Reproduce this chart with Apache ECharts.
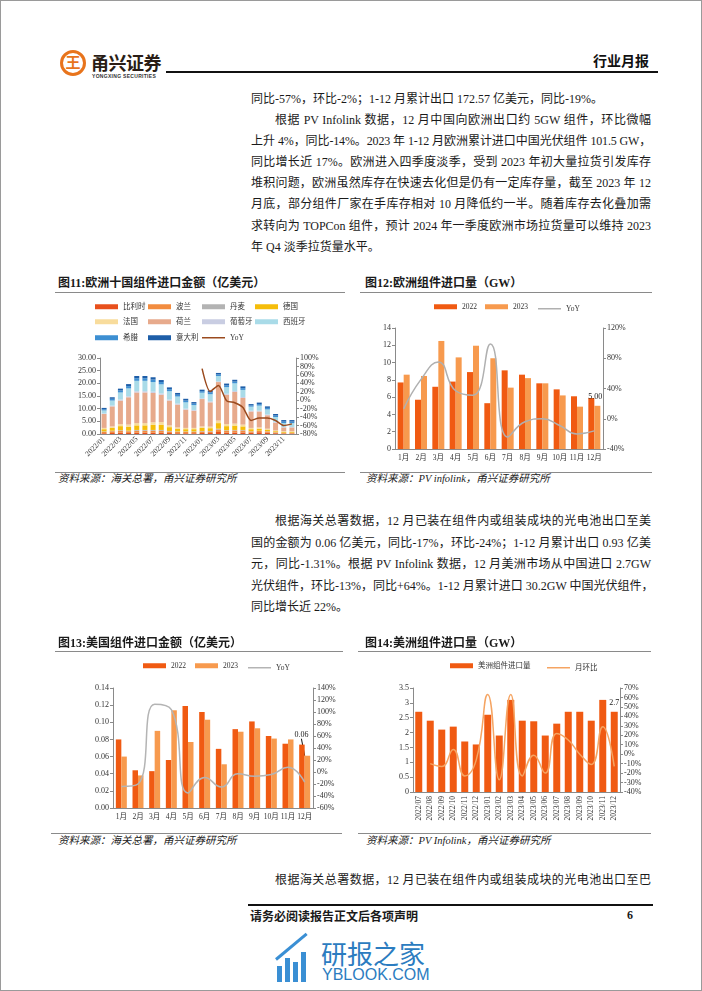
<!DOCTYPE html>
<html><head><meta charset="utf-8">
<script src="https://cdn.jsdelivr.net/npm/echarts@6/dist/echarts.min.js"></script>
<style>
html,body{margin:0;padding:0;background:#fff;}
#page{position:relative;width:702px;height:991px;overflow:hidden;font-family:'Liberation Serif','Noto Sans CJK SC',serif;color:#1a1a1a;}
.frame{position:absolute;left:0;top:0;width:700px;height:989px;border:1px solid #9a9a9a;z-index:0;}
.t{position:absolute;white-space:nowrap;font-size:12px;line-height:16px;z-index:3;}
.j{text-align:justify;text-align-last:justify;}
.ttl{position:absolute;white-space:nowrap;font-size:12px;line-height:14px;font-weight:bold;font-family:'Liberation Serif','Noto Sans CJK SC',serif;z-index:3;}
.src{position:absolute;white-space:nowrap;font-size:10.5px;line-height:12px;font-style:italic;color:#222;z-index:3;}
.hl{position:absolute;height:1px;background:#8a8a8a;z-index:3;}
.chart{position:absolute;z-index:2;}
</style></head>
<body><div id="page">
<div class="frame"></div>
<!-- header -->
<div style="position:absolute;left:60px;top:50px;width:20px;height:20px;border:3px solid #e8741c;border-radius:50%;z-index:3;"></div>
<div style="position:absolute;left:60px;top:51px;width:26px;text-align:center;font:bold 15px/22px 'Noto Sans CJK SC';color:#e8741c;z-index:4;">王</div>
<div class="t" style="left:91px;top:51px;font:bold 18px/22px 'Noto Sans CJK SC';color:#2a1d16;letter-spacing:-0.5px;">甬兴证券</div>
<div class="t" style="left:92px;top:73px;font:bold 5px/6px 'Liberation Sans';color:#333;letter-spacing:0.3px;">YONGXING SECURITIES</div>
<div style="position:absolute;left:166px;top:71px;width:492px;height:2px;background:#111;z-index:3;"></div>
<div class="t" style="left:593px;top:51px;font:bold 14px/18px 'Noto Sans CJK SC';color:#111;">行业月报</div>

<!-- paragraph 1 -->
<div class="t" style="left:251px;top:91px;">同比-57%，环比-2%；1-12 月累计出口 172.57 亿美元，同比-19%。</div>
<div class="t j" style="left:275px;top:112px;width:376px;">根据 PV Infolink 数据，12 月中国向欧洲出口约 5GW 组件，环比微幅</div>
<div class="t j" style="left:251px;top:133px;width:400px;letter-spacing:-0.2px;">上升 4%，同比-14%。2023 年 1-12 月欧洲累计进口中国光伏组件 101.5 GW，</div>
<div class="t j" style="left:251px;top:154px;width:400px;">同比增长近 17%。欧洲进入四季度淡季，受到 2023 年初大量拉货引发库存</div>
<div class="t j" style="left:251px;top:175px;width:400px;">堆积问题，欧洲虽然库存在快速去化但是仍有一定库存量，截至 2023 年 12</div>
<div class="t j" style="left:251px;top:196px;width:400px;">月底，部分组件厂家在手库存相对 10 月降低约一半。随着库存去化叠加需</div>
<div class="t j" style="left:251px;top:218px;width:400px;">求转向为 TOPCon 组件，预计 2024 年一季度欧洲市场拉货量可以维持 2023</div>
<div class="t" style="left:251px;top:239px;">年 Q4 淡季拉货量水平。</div>

<!-- chart titles top -->
<div class="ttl" style="left:58px;top:276px;">图11:欧洲十国组件进口金额（亿美元）</div>
<div class="ttl" style="left:365px;top:276px;">图12:欧洲组件进口量（GW）</div>
<div class="hl" style="left:55px;top:292px;width:290px;"></div>
<div class="hl" style="left:360px;top:292px;width:292px;"></div>

<div id="c11" class="chart" style="left:55px;top:295px;width:300px;height:177px;"></div>
<div id="c12" class="chart" style="left:355px;top:295px;width:300px;height:177px;"></div>

<div class="hl" style="left:55px;top:472px;width:290px;"></div>
<div class="hl" style="left:360px;top:472px;width:292px;"></div>
<div class="src" style="left:58px;top:473px;">资料来源：海关总署，甬兴证券研究所</div>
<div class="src" style="left:366px;top:473px;">资料来源：PV infolink，甬兴证券研究所</div>

<!-- paragraph 2 -->
<div class="t j" style="left:275px;top:513px;width:376px;">根据海关总署数据，12 月已装在组件内或组装成块的光电池出口至美</div>
<div class="t j" style="left:251px;top:535px;width:400px;">国的金额为 0.06 亿美元，同比-17%，环比-24%；1-12 月累计出口 0.93 亿美</div>
<div class="t j" style="left:251px;top:556px;width:400px;">元，同比-1.31%。根据 PV Infolink 数据，12 月美洲市场从中国进口 2.7GW</div>
<div class="t j" style="left:251px;top:578px;width:400px;">光伏组件，环比-13%，同比+64%。1-12 月累计进口 30.2GW 中国光伏组件，</div>
<div class="t" style="left:251px;top:599px;">同比增长近 22%。</div>

<!-- chart titles bottom -->
<div class="ttl" style="left:58px;top:636px;">图13:美国组件进口金额（亿美元）</div>
<div class="ttl" style="left:365px;top:636px;">图14:美洲组件进口量（GW）</div>
<div class="hl" style="left:55px;top:651px;width:288px;"></div>
<div class="hl" style="left:358px;top:651px;width:293px;"></div>

<div id="c13" class="chart" style="left:55px;top:628px;width:300px;height:202px;"></div>
<div id="c14" class="chart" style="left:355px;top:628px;width:300px;height:202px;"></div>

<div class="hl" style="left:51px;top:833px;width:291px;"></div>
<div class="hl" style="left:358px;top:833px;width:293px;"></div>
<div class="src" style="left:58px;top:835px;">资料来源：海关总署，甬兴证券研究所</div>
<div class="src" style="left:366px;top:835px;">资料来源：PV Infolink，甬兴证券研究所</div>

<div class="t j" style="left:275px;top:872px;width:376px;">根据海关总署数据，12 月已装在组件内或组装成块的光电池出口至巴</div>

<!-- footer -->
<div style="position:absolute;left:248px;top:904px;width:405px;height:1.5px;background:#111;z-index:3;"></div>
<div class="t" style="left:250px;top:908px;font:bold 12px/15px 'Noto Sans CJK SC';">请务必阅读报告正文后各项声明</div>
<div class="t" style="left:627px;top:908px;font:bold 12px/15px 'Liberation Serif';">6</div>

<!-- watermark -->
<div style="position:absolute;left:277px;top:966px;width:5px;height:16px;background:#3a8fd4;z-index:3;"></div>
<div style="position:absolute;left:285px;top:958px;width:5px;height:24px;background:#3a8fd4;z-index:3;"></div>
<div style="position:absolute;left:293px;top:962px;width:5px;height:20px;background:#3a8fd4;z-index:3;"></div>
<div style="position:absolute;left:301px;top:952px;width:5px;height:30px;background:#3a8fd4;z-index:3;"></div>
<div style="position:absolute;left:276px;top:958px;width:40px;height:3px;background:#3a8fd4;transform:rotate(-40deg);transform-origin:left center;z-index:3;"></div>
<div class="t" style="left:321px;top:938px;font:26px/30px 'Noto Sans CJK SC';color:#2b7cc0;">研报之家</div>
<div class="t" style="left:322px;top:966px;font:16px/18px 'Liberation Sans';color:#2b7cc0;">YBLOOK.COM</div>
</div>

<script>
// ---------- Data ----------
const months11 = ['2022/01','2022/02','2022/03','2022/04','2022/05','2022/06','2022/07','2022/08','2022/09','2022/10','2022/11','2022/12','2023/01','2023/02','2023/03','2023/04','2023/05','2023/06','2023/07','2023/08','2023/09','2023/10','2023/11','2023/12'];
const belgium     = [0.3,0.4,0.5,0.4,0.5,0.5,0.5,0.5,0.4,0.3,0.3,0.3,0.4,0.4,0.8,0.5,0.6,0.6,0.5,0.7,0.6,0.3,0.2,0.2];
const poland      = [0.5,0.7,0.8,0.7,0.8,0.8,0.8,0.8,0.6,0.5,0.5,0.5,0.6,0.6,1.0,0.8,0.8,0.8,0.5,0.5,0.4,0.3,0.2,0.2];
const denmark     = [0.2,0.2,0.2,0.2,0.3,0.3,0.3,0.3,0.2,0.2,0.2,0.2,0.2,0.2,0.3,0.2,0.2,0.2,0.1,0.1,0.1,0.1,0.1,0.1];
const germany     = [0.9,1.1,1.6,1.5,1.8,1.8,2.0,2.0,1.5,1.0,0.9,0.9,1.2,1.1,2.2,1.6,1.7,1.4,0.8,0.8,0.6,0.4,0.3,0.3];
const france      = [0.5,0.6,0.8,0.9,0.9,0.9,1.0,1.1,0.7,0.6,0.5,0.5,0.6,0.6,1.0,0.8,0.8,0.7,0.5,0.5,0.4,0.3,0.3,0.3];
const netherlands = [5.5,7.9,9.3,10.8,12.1,12.1,11.6,10.8,9.8,9.0,7.2,6.8,10.8,9.6,15.2,11.6,12.5,10.5,6.5,6.3,5.3,3.1,1.5,1.5];
const portugal    = [0.2,0.3,0.4,0.4,0.5,0.5,0.5,0.5,0.4,0.4,0.4,0.3,0.3,0.4,0.3,0.4,0.4,0.4,0.3,0.3,0.3,0.3,0.2,0.2];
const spain       = [1.2,2.0,2.8,3.1,4.1,4.1,3.8,3.6,3.3,2.8,2.5,1.9,2.2,2.8,2.1,2.6,3.0,2.8,1.6,2.0,2.0,1.9,1.5,1.5];
const greece      = [0.5,0.7,0.8,0.9,1.0,1.0,1.0,0.9,0.8,0.7,0.7,0.6,0.6,0.7,0.6,0.7,0.7,0.7,0.5,0.6,0.6,0.6,0.6,0.6];
const italy       = [0.5,0.6,0.7,0.8,0.9,0.9,0.9,0.8,0.7,0.7,0.7,0.6,0.6,0.7,0.6,0.7,0.7,0.7,0.5,0.6,0.6,0.6,0.6,0.6];
const yoy11       = ['-','-','-','-','-','-','-','-','-','-','-','-',75,21,35,-1,-6,-17,-48,-42,-42,-48,-60,-56];
const countryNames = ['比利时','波兰','丹麦','德国','法国','荷兰','葡萄牙','西班牙','希腊','意大利'];

const months = ['1月','2月','3月','4月','5月','6月','7月','8月','9月','10月','11月','12月'];
const eu2022 = [7.7,5.7,7.2,7.8,8.9,5.3,9.1,8.6,7.6,6.9,6.1,5.9];
const eu2023 = [8.6,8.45,12.5,10.6,11.95,10.5,7.1,8.2,7.6,6.2,4.9,5.0];
const euYoY  = [13,52,75,37,31,99,-24,-4,0,-9,-20,-16];

const us2022 = [0.080,0.044,0.043,0.056,0.119,0.112,0.069,0.092,0.101,0.084,0.075,0.074];
const us2023 = [0.060,0.038,0.090,0.114,0.077,0.103,0.051,0.089,0.093,0.081,0.080,0.061];
const usYoY  = [-24,-20,113,104,-35,-9,-25,-3,-7,-4,8,-17];

const amMonths = ['2022/07','2022/08','2022/09','2022/10','2022/11','2022/12','2023/01','2023/02','2023/03','2023/04','2023/05','2023/06','2023/07','2023/08','2023/09','2023/10','2023/11','2023/12'];
const amVolume = [2.7,2.4,2.1,2.2,1.7,1.6,2.6,1.9,3.1,2.4,2.38,1.9,2.3,2.7,2.7,2.4,3.1,2.7];
const amMoM    = ['-',-10,-13,5,-23,-6,63,-27,63,-23,-1,-20,22,15,0,-11,29,-13];

// ---------- Styles ----------
const FONT = "'Liberation Serif','Noto Sans CJK SC',serif";
const AX = '#8a8a8a';
const LBL = '#333';
function valAxis(min,max,interval,fmt,pos){
  return {type:'value',min:min,max:max,interval:interval,position:pos,
    axisLine:{show:true,lineStyle:{color:AX,width:1}},
    axisTick:{show:true,length:3,lineStyle:{color:AX}},
    splitLine:{show:false},
    axisLabel:{formatter:fmt,fontSize:8,color:LBL,fontFamily:FONT,margin:4}};
}
function catAxis(data,extra){
  return Object.assign({type:'category',data:data,
    axisLine:{lineStyle:{color:AX,width:1}},
    axisTick:{length:3,lineStyle:{color:AX}},
    axisLabel:{interval:0,fontSize:7.5,color:LBL,fontFamily:FONT,margin:5}},extra||{});
}
// isLine: legend for line series drawn as a thin bar (no symbol)
function leg(name,left,top,isLine){
  return {data:[name],left:left,top:top,padding:0,itemGap:0,itemWidth:23,itemHeight:isLine?1.5:5,selectedMode:false,
    icon:'rect',
    textStyle:{fontSize:7.5,color:LBL,fontFamily:FONT,padding:[0,0,0,0]}};
}

// ---------- Chart 11 ----------
const c11 = echarts.init(document.getElementById('c11'));
const stackData = [belgium,poland,denmark,germany,france,netherlands,portugal,spain,greece,italy];
const stackColors = ['#e8501c','#f28c3f','#b3b3b3','#f5bd0a','#f8dc9c','#e7aa8c','#c9cde2','#a9dbe8','#3d8fd2','#1e5ea8'];
const s11 = countryNames.map((n,i)=>({name:n,type:'bar',stack:'eu',data:stackData[i],barWidth:5,
  itemStyle:{color:stackColors[i]}}));
s11.push({name:'YoY',type:'line',yAxisIndex:1,data:yoy11,symbol:'none',smooth:0.25,
  lineStyle:{color:'#9a4a1e',width:1.5},itemStyle:{color:'#9a4a1e'}});
const legPos = [[40,8],[93,8],[147,8],[200,8],[40,23],[93,23],[147,23],[200,23],[40,39],[93,39],[147,39]];
const legNames = countryNames.concat(['YoY']);
c11.setOption({
  animation:false,
  legend: legNames.map((n,i)=>leg(n,legPos[i][0],legPos[i][1], n==='YoY')),
  grid:{left:45,right:59,top:63,bottom:38},
  xAxis: catAxis(months11,{axisLabel:{interval:1,rotate:45,fontSize:7.5,color:LBL,fontFamily:FONT,margin:4}}),
  yAxis:[valAxis(0,30,5,v=>v.toFixed(2),'left'), valAxis(-80,100,20,v=>v+'%','right')],
  series:s11
});

// ---------- Chart 12 ----------
const c12 = echarts.init(document.getElementById('c12'));
c12.setOption({
  animation:false,
  legend:[leg('2022',79,8),leg('2023',130,8),leg('YoY',183,10,true)],
  grid:{left:40,right:52,top:33,bottom:23},
  xAxis: catAxis(months),
  yAxis:[valAxis(0,14,2,v=>v,'left'), valAxis(-40,120,40,v=>v+'%','right')],
  series:[
    {name:'2022',type:'bar',data:eu2022,barWidth:6,barGap:'0%',itemStyle:{color:'#f05a12'}},
    {name:'2023',type:'bar',data:eu2023.map((v,i)=> i===eu2023.length-1 ? {value:v,label:{show:true,position:'top',formatter:p=>p.value.toFixed(2),fontSize:8,color:'#222',fontFamily:FONT,offset:[-2,0]}} : v),
      barWidth:6,barGap:'0%',itemStyle:{color:'#f79a4e'}},
    {name:'YoY',type:'line',yAxisIndex:1,data:euYoY,symbol:'none',smooth:0.5,lineStyle:{color:'#b0b0b0',width:1.5},itemStyle:{color:'#b0b0b0'}}
  ]
});

// ---------- Chart 13 ----------
const c13 = echarts.init(document.getElementById('c13'));
c13.setOption({
  animation:false,
  legend:[leg('2022',88,34),leg('2023',140,34),leg('YoY',193,36,true)],
  grid:{left:58,right:42,top:60,bottom:22},
  xAxis: catAxis(months),
  yAxis:[valAxis(0,0.14,0.02,v=>v.toFixed(2),'left'), valAxis(-60,140,20,v=>v+'%','right')],
  series:[
    {name:'2022',type:'bar',data:us2022,barWidth:5.5,barGap:'0%',itemStyle:{color:'#f05a12'}},
    {name:'2023',type:'bar',data:us2023.map((v,i)=> i===us2023.length-1 ? {value:v,label:{show:true,position:'top',formatter:p=>p.value.toFixed(2),fontSize:8,color:'#222',fontFamily:FONT},labelLine:{show:true,lineStyle:{color:'#111',width:1}}} : v),
      barWidth:5.5,barGap:'0%',itemStyle:{color:'#f79a4e'},labelLayout:{dx:-6,dy:-12},labelLine:{show:false}},
    {name:'YoY',type:'line',yAxisIndex:1,data:usYoY,symbol:'none',smooth:0.5,lineStyle:{color:'#b4b4b4',width:1.5},itemStyle:{color:'#b4b4b4'}}
  ]
});

// ---------- Chart 14 ----------
const c14 = echarts.init(document.getElementById('c14'));
c14.setOption({
  animation:false,
  legend:[leg('美洲组件进口量',95,34),leg('月环比',192,36,true)],
  grid:{left:58,right:35,top:60,bottom:38},
  xAxis: catAxis(amMonths,{axisLabel:{interval:0,rotate:90,fontSize:7.5,color:LBL,fontFamily:FONT,margin:4}}),
  yAxis:[valAxis(0,3.5,0.5,v=>v,'left'), valAxis(-40,70,10,v=>v+'%','right')],
  series:[
    {name:'美洲组件进口量',type:'bar',data:amVolume.map((v,i)=> i===amVolume.length-1 ? {value:v,label:{show:true,position:'top',fontSize:8,color:'#222',fontFamily:FONT}} : v),
      barWidth:7,itemStyle:{color:'#f05a12'}},
    {name:'月环比',type:'line',yAxisIndex:1,data:amMoM,symbol:'none',smooth:0.5,lineStyle:{color:'#f5a462',width:1.5},itemStyle:{color:'#f5a462'}}
  ]
});
</script>
</body></html>
